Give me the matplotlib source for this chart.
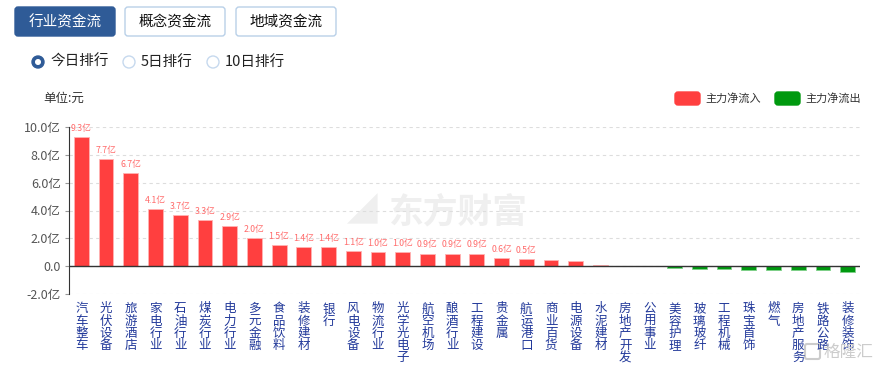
import numpy as np
import matplotlib
matplotlib.use('Agg')
import matplotlib.pyplot as plt
from matplotlib.patches import FancyBboxPatch, Circle

plt.rcParams['font.family'] = ['Noto Sans CJK SC', 'DejaVu Sans']

# data (亿元)
industries = ['汽车整车', '光伏设备', '旅游酒店', '家电行业', '石油行业', '煤炭行业', '电力行业',
              '多元金融', '食品饮料', '装修建材', '银行', '风电设备', '物流行业', '光学光电子',
              '航空机场', '酿酒行业', '工程建设', '贵金属', '航运港口', '商业百货', '电源设备',
              '水泥建材', '房地产开发', '公用事业', '美容护理', '玻璃玻纤', '工程机械', '珠宝首饰',
              '燃气', '房地产服务', '铁路公路', '装修装饰']
flows = [9.3, 7.7, 6.7, 4.1, 3.7, 3.3, 2.9, 2.0, 1.5, 1.4, 1.4, 1.1, 1.0, 1.0, 0.9, 0.9, 0.9,
         0.6, 0.5, 0.42, 0.36, 0.07, 0.0, 0.0, -0.12, -0.19, -0.2, -0.27, -0.27, -0.29, -0.29, -0.43]
yticks = [-2, 0, 2, 4, 6, 8, 10]
ytick_labels = ['-2.0亿', '0.0', '2.0亿', '4.0亿', '6.0亿', '8.0亿', '10.0亿']
tabs = ['行业资金流', '概念资金流', '地域资金流']
ranks = ['今日排行', '5日排行', '10日排行']
legend_names = ['主力净流入', '主力净流出']

red = '#ff3f3f'
green = '#00990f'
blue = '#2f5b97'

fig = plt.figure(figsize=(8.76, 3.69), dpi=100)

# overlay in pixel coords for the page furniture
ov = fig.add_axes([0, 0, 1, 1])
ov.set_xlim(0, 876)
ov.set_ylim(369, 0)
ov.axis('off')

tab_x = [15, 125, 236]
for i, (t, tx) in enumerate(zip(tabs, tab_x)):
    active = i == 0
    ov.add_patch(FancyBboxPatch((tx, 7), 100, 29, boxstyle='round,pad=0,rounding_size=3',
                                fc=blue if active else 'white',
                                ec=blue if active else '#b9d0e8', lw=1))
    ov.text(tx + 50, 22, t, ha='center', va='center', fontsize=10.5,
            color='white' if active else '#111111')

radio_x = [38, 129, 213]
for i, (r, rx) in enumerate(zip(ranks, radio_x)):
    if i == 0:
        ov.add_patch(Circle((rx, 62), 6, fc=blue, ec=blue))
        ov.add_patch(Circle((rx, 62), 2.3, fc='white', ec='white'))
    else:
        ov.add_patch(Circle((rx, 62), 6, fc='white', ec='#c6d9ee', lw=1))
    ov.text(rx + 12, 62, r, ha='left', va='center', fontsize=10.5, color='#222222')

ov.text(43, 98, '单位:元', ha='left', va='center', fontsize=9, color='#333333')

for name, lx, c in zip(legend_names, [675, 775], [red, green]):
    ov.add_patch(FancyBboxPatch((lx, 92), 25, 13, boxstyle='round,pad=0,rounding_size=3',
                                fc=c, ec=c))
    ov.text(lx + 30, 98.5, name, ha='left', va='center', fontsize=8, color='#333333')

# watermarks
ov.text(458, 212, '东方财富', ha='center', va='center', fontsize=25, fontweight='bold',
        color='#efefef')
ov.text(362, 212, '◢', ha='center', va='center', fontsize=22, color='#efefef')
ov.add_patch(FancyBboxPatch((805, 344), 15, 15, boxstyle='round,pad=0,rounding_size=2',
                            fc='none', ec='#cccccc', lw=1.5, zorder=10))

# chart
ax = fig.add_axes([69 / 876, 1 - 294 / 369, 791 / 876, 167 / 369])
ax.patch.set_alpha(0)
x = np.arange(len(industries))
colors = [red if v >= 0 else green for v in flows]
ax.bar(x, flows, width=0.6, color=colors, edgecolor=['#ffb3b3' if v >= 0 else '#7fd08a' for v in flows],
       linewidth=0.6, zorder=3)
for xi, v in zip(x, flows):
    if v >= 0.5:
        ax.text(xi, v + 0.3, f'{v:.1f}亿', ha='center', va='bottom', fontsize=6.3,
                color='#ff6a6a', zorder=4, clip_on=False)

ax.set_xlim(-0.5, len(industries) - 0.5)
ax.set_ylim(-2, 10)
ax.set_yticks(yticks, ytick_labels)
ax.set_xticks(x, ['\n'.join(n) for n in industries])
ax.tick_params(axis='x', length=0, pad=6, labelsize=9, labelcolor='#22399a')
for lab in ax.get_xticklabels():
    lab.set_linespacing(0.92)
ax.tick_params(axis='y', length=3, color='#999999', pad=3, labelsize=9, labelcolor='#555555')
ax.grid(axis='y', ls=(0, (3, 3)), color='#dddddd', lw=0.8, zorder=0)
ax.axhline(0, color='#333333', lw=1, zorder=4)
for s in ['top', 'right', 'bottom']:
    ax.spines[s].set_visible(False)
ax.spines['left'].set_color('#333333')

fig.text(848 / 876, 1 - 352 / 369, '格隆汇', ha='center', va='center', fontsize=12,
         color='#cccccc')

fig.savefig('out.png', dpi=100)
